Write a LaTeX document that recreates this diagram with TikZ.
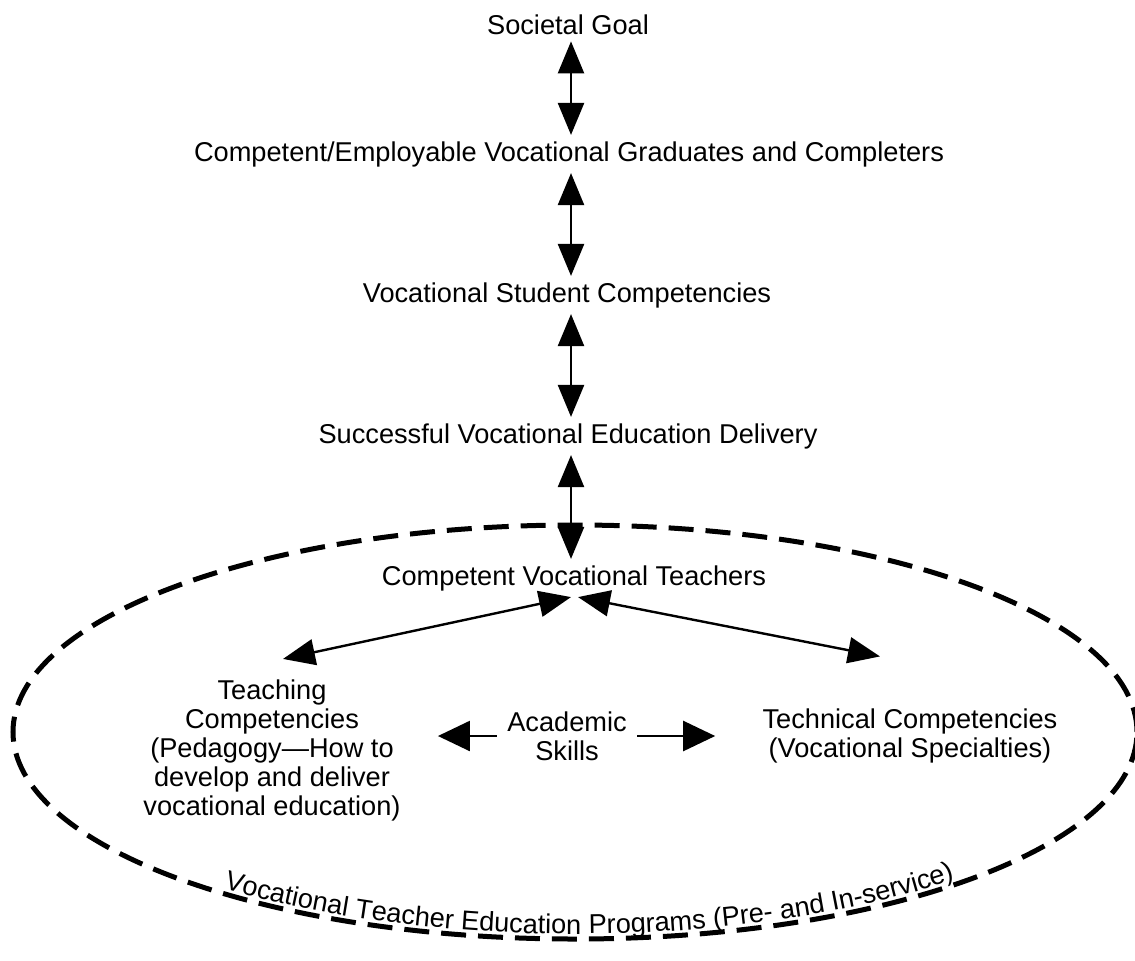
\documentclass[tikz,border=0pt]{standalone}
\usepackage{fontspec}
\setmainfont{Liberation Sans}
\usetikzlibrary{arrows.meta,decorations.text}

\begin{document}
\begin{tikzpicture}[x=0.5pt,y=0.5pt,
  txt/.style={inner sep=3pt,font=\fontsize{13.6}{14.5}\selectfont,align=center},
  dbl/.style={{Triangle[length=16pt,width=13pt]}-{Triangle[length=16pt,width=13pt]},line width=1.2pt},
  sgl/.style={-{Triangle[length=16pt,width=15pt]},line width=1.2pt},
  dashring/.style={line width=2.5pt,dash pattern=on 12.5pt off 6pt}]
\useasboundingbox (0,0) rectangle (1135,-960);

% the chain from goal down to teachers
\node[txt] (goal)     at (568,-25)  {Societal Goal};
\node[txt] (grads)    at (569,-154) {Competent/Employable Vocational Graduates and Completers};
\node[txt] (student)  at (567,-295) {Vocational Student Competencies};
\node[txt] (delivery) at (568,-436) {Successful Vocational Education Delivery};
\node[txt] (teachers) at (574,-578) {Competent Vocational Teachers};
\coordinate (spine) at (571,0);

\draw[dbl] (goal.south -| spine)     -- (grads.north -| spine);
\draw[dbl] (grads.south -| spine)    -- (student.north -| spine);
\draw[dbl] (student.south -| spine)  -- (delivery.north -| spine);
\draw[dbl] (delivery.south -| spine) -- (teachers.north -| spine);

% inside the programs ring
\node[txt] (teaching)  at (272,-750) {Teaching\\Competencies\\(Pedagogy---How to\\develop and deliver\\vocational education)};
\node[txt] (academic)  at (567,-736) {Academic\\Skills};
\node[txt] (technical) at (910,-736) {Technical Competencies\\(Vocational Specialties)};

\draw[dbl] ([xshift=-1.5pt]teachers.south) -- ([xshift=5.5pt,yshift=7pt]teaching.north);
\draw[dbl] ([xshift=2pt]teachers.south) -- ([xshift=-15pt,yshift=23pt]technical.north);
\draw[sgl] ([xshift=-2pt]academic.west) -- ([xshift=15.5pt]academic.west -| teaching.east);
\draw[sgl] ([xshift=2pt]academic.east) -- ([xshift=-20.5pt]academic.east -| technical.west);

% dashed ring with its caption along the bottom
\coordinate (ring) at (575,-732);
\draw[dashring] (ring) ellipse [x radius=562, y radius=207];
\path[decorate,decoration={text along path,text align=center,raise=2.5pt,
    text={|\fontsize{13.6}{14.5}\selectfont|Vocational Teacher Education Programs (Pre- and In-service)}}]
  (ring) ++(228:562 and 207) arc[start angle=228,end angle=316,x radius=562,y radius=207];
\end{tikzpicture}
\end{document}
